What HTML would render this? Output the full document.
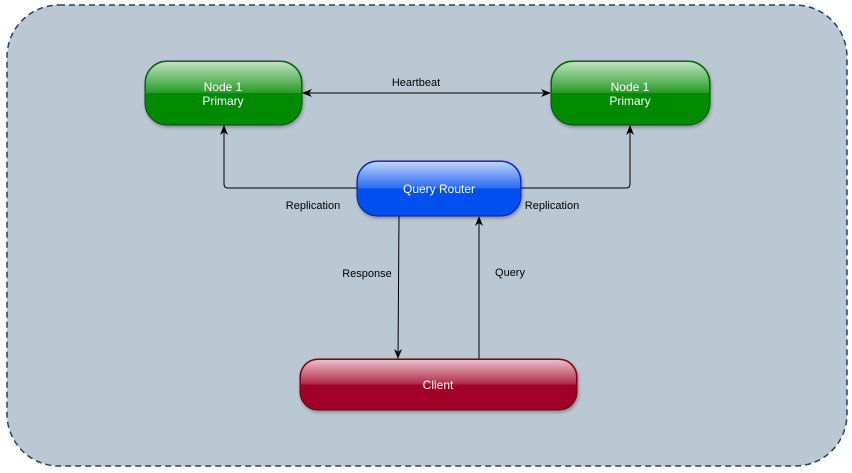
<!DOCTYPE html>
<html><head><style>body{margin:0;background:#fff}svg{display:block}text{font-family:"Liberation Sans",sans-serif}</style></head><body>
<svg width="852" height="473" viewBox="0 0 852 473" xmlns="http://www.w3.org/2000/svg">
<defs>
<linearGradient id="gl" x1="0" y1="0" x2="0" y2="1">
<stop offset="0" stop-color="#fff" stop-opacity="0.75"/>
<stop offset="0.5" stop-color="#fff" stop-opacity="0.15"/>
<stop offset="0.5" stop-color="#fff" stop-opacity="0"/>
<stop offset="1" stop-color="#fff" stop-opacity="0"/>
</linearGradient>
<filter id="sh" x="-10%" y="-10%" width="130%" height="140%"><feDropShadow dx="1" dy="2" stdDeviation="1.5" flood-opacity="0.3"/></filter>
<marker id="a" viewBox="0 0 10 10" refX="9" refY="5" markerWidth="10" markerHeight="10" orient="auto-start-reverse"><path d="M0,1 L10,5 L0,9 L3,5 Z" fill="#000"/></marker>
</defs>
<rect x="7" y="5" width="840" height="461" rx="52" fill="#bac8d3" stroke="#23445d" stroke-width="1.5" stroke-dasharray="6,4"/>
<g fill="none" stroke="#000" stroke-width="1">
<line x1="303" y1="93" x2="550" y2="93" marker-start="url(#a)" marker-end="url(#a)"/>
<path d="M357,188 H228 Q224,188 224,184 V126" marker-end="url(#a)"/>
<path d="M521,188 H626 Q630,188 630,184 V126" marker-end="url(#a)"/>
<line x1="399" y1="216" x2="398" y2="358" marker-end="url(#a)"/>
<line x1="479" y1="359" x2="479" y2="217" marker-end="url(#a)"/>
</g>
<g filter="url(#sh)">
<rect x="145" y="61" width="157" height="64" rx="22" fill="#008a00" stroke="#005700"/>
<rect x="551" y="61" width="159" height="64" rx="22" fill="#008a00" stroke="#005700"/>
<rect x="357" y="161" width="164" height="55" rx="20" fill="#0050ef" stroke="#001dbc"/>
<rect x="300" y="359" width="277" height="51" rx="18" fill="#a20025" stroke="#6f0000"/>
</g>
<rect x="146" y="62" width="155" height="62" rx="21" fill="url(#gl)"/>
<rect x="552" y="62" width="157" height="62" rx="21" fill="url(#gl)"/>
<rect x="358" y="162" width="162" height="53" rx="19" fill="url(#gl)"/>
<rect x="301" y="360" width="275" height="49" rx="17" fill="url(#gl)"/>
<g fill="#fff" font-size="12" text-anchor="middle">
<text x="223" y="91">Node 1</text><text x="223" y="105">Primary</text>
<text x="630" y="91">Node 1</text><text x="630" y="105">Primary</text>
<text x="439" y="193">Query Router</text>
<text x="438" y="389">Client</text>
</g>
<g fill="#000" font-size="11" text-anchor="middle">
<text x="416" y="86">Heartbeat</text>
<text x="313" y="209">Replication</text>
<text x="552" y="209">Replication</text>
<text x="367" y="277">Response</text>
<text x="510" y="276">Query</text>
</g>
</svg>
</body></html>
